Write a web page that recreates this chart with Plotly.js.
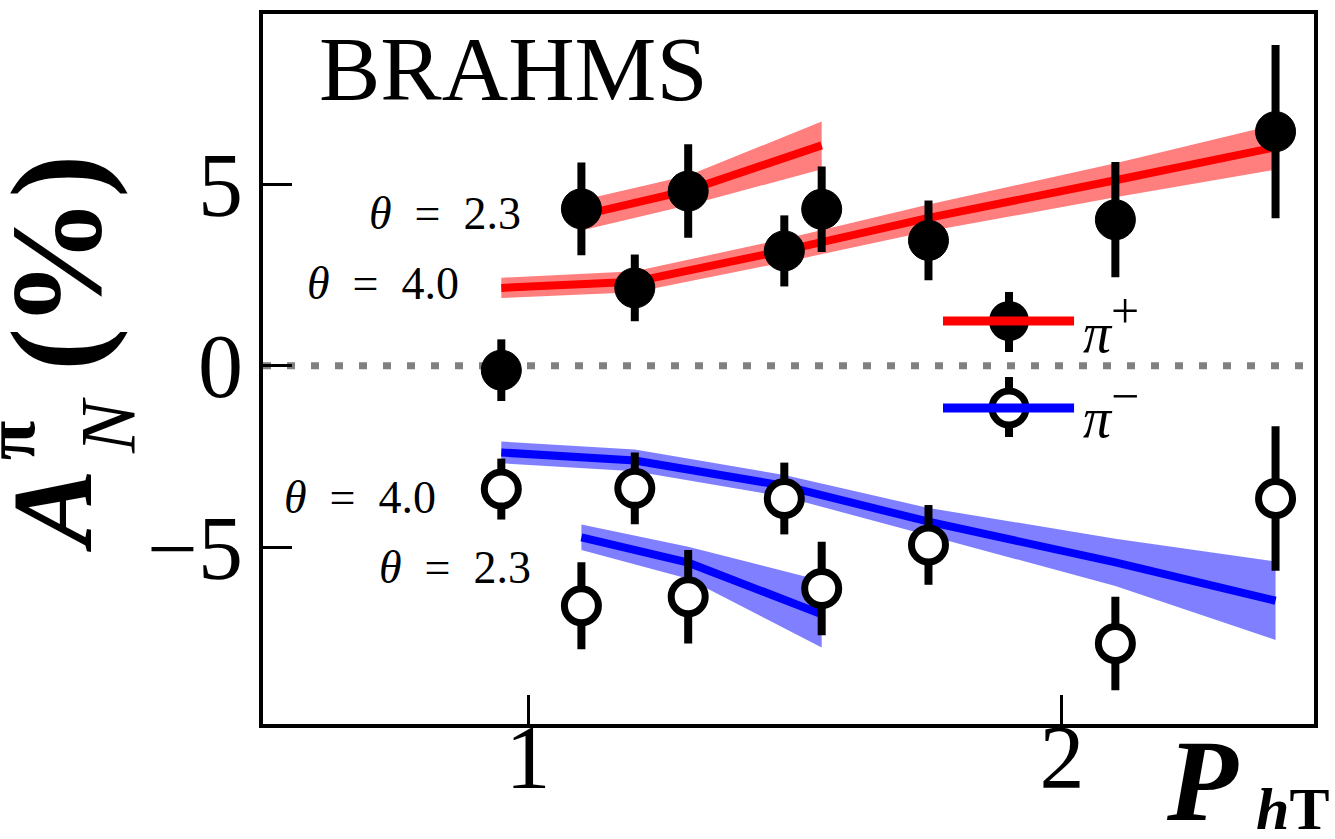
<!DOCTYPE html>
<html>
<head>
<meta charset="utf-8">
<script src="https://cdn.plot.ly/plotly-3.0.1.min.js"></script>
<style>html,body{margin:0;padding:0;background:#fff;}#chart{width:1335px;height:839px;}</style>
</head>
<body>
<div id="chart"></div>
<script>
// ---- data ----
const pT40 = [0.95, 1.20, 1.48, 1.75, 2.10, 2.40];   // theta = 4.0 bins
const pT23 = [1.10, 1.30, 1.55];                     // theta = 2.3 bins

const piPlus40    = [-0.12, 2.15, 3.17, 3.46, 4.03, 6.46];
const piPlus40Err = [0.85, 0.92, 0.98, 1.10, 1.59, 2.39];
const piPlus23    = [4.33, 4.82, 4.32];
const piPlus23Err = [1.28, 1.29, 1.18];

const piMinus40    = [-3.40, -3.38, -3.66, -4.94, -7.66, -3.66];
const piMinus40Err = [0.84, 0.99, 0.99, 1.10, 1.29, 1.99];
const piMinus23    = [-6.62, -6.37, -6.14];
const piMinus23Err = [1.20, 1.29, 1.29];

const thPlus40     = [2.15, 2.32, 3.18, 4.08, 5.12, 6.03];
const thPlus40Band = [0.28, 0.29, 0.32, 0.37, 0.47, 0.62];
const thPlus23     = [4.15, 4.84, 6.08];
const thPlus23Band = [0.42, 0.41, 0.66];
const thMinus40     = [-2.39, -2.61, -3.31, -4.30, -5.42, -6.48];
const thMinus40Band = [0.30, 0.30, 0.30, 0.38, 0.65, 1.08];
const thMinus23     = [-4.73, -5.43, -6.85];
const thMinus23Band = [0.35, 0.44, 0.92];

const yTicks = [-5, 0, 5];
const yTickText = ['\u22125', '0', '5'];
const xTicks = [1, 2];
const xTickText = ['1', '2'];

// ---- helpers ----
const FONT = 'Liberation Serif, Times New Roman, serif';
function band(xs, mid, hw, color) {
  const up = mid.map((v, i) => v + hw[i]);
  const lo = mid.map((v, i) => v - hw[i]);
  return {
    x: xs.concat(xs.slice().reverse()),
    y: up.concat(lo.slice().reverse()),
    type: 'scatter', mode: 'lines', fill: 'toself',
    fillcolor: color, line: {width: 0}, hoverinfo: 'skip', showlegend: false
  };
}
function curve(xs, ys, color) {
  return {x: xs, y: ys, type: 'scatter', mode: 'lines',
    line: {color: color, width: 8}, showlegend: false};
}
function pts(xs, ys, err, open) {
  return {
    x: xs, y: ys, type: 'scatter', mode: 'markers', showlegend: false,
    error_y: {type: 'data', array: err, visible: true, thickness: 8, width: 0, color: '#000'},
    marker: open
      ? {symbol: 'circle', size: 34, color: '#fff', line: {color: '#000', width: 7}}
      : {symbol: 'circle', size: 40, color: '#000', line: {color: '#000', width: 1}}
  };
}

const RB = 'rgba(255,0,0,0.5)', BB = 'rgba(0,0,255,0.5)';
const traces = [
  band(pT40, thPlus40, thPlus40Band, RB),
  curve(pT40, thPlus40, '#ff0000'),
  band(pT23, thPlus23, thPlus23Band, RB),
  curve(pT23, thPlus23, '#ff0000'),
  band(pT40, thMinus40, thMinus40Band, BB),
  curve(pT40, thMinus40, '#0000ff'),
  band(pT23, thMinus23, thMinus23Band, BB),
  curve(pT23, thMinus23, '#0000ff'),
  pts(pT40, piPlus40, piPlus40Err, false),
  pts(pT23, piPlus23, piPlus23Err, false),
  pts(pT40, piMinus40, piMinus40Err, true),
  pts(pT23, piMinus23, piMinus23Err, true)
];

// legend placement (paper coordinates)
const LX = 0.7098, LX0 = 0.647, LX1 = 0.7717;
const LY1 = 0.5676, LY2 = 0.4451;

const shapes = [
  {type: 'line', xref: 'paper', yref: 'y', x0: 0, x1: 1, y0: 0, y1: 0, layer: 'below',
   line: {color: '#808080', width: 7, dash: '8px,16px'}},
  // legend pi+
  {type: 'line', xref: 'paper', yref: 'paper', x0: LX, x1: LX, y0: 0.5239, y1: 0.6085, line: {color: '#000', width: 8}},
  {type: 'circle', xref: 'paper', yref: 'paper', xsizemode: 'pixel', ysizemode: 'pixel',
   xanchor: LX, yanchor: LY1, x0: -20, x1: 20, y0: -20, y1: 20, fillcolor: '#000', line: {width: 0}},
  {type: 'line', xref: 'paper', yref: 'paper', x0: LX0, x1: LX1, y0: LY1, y1: LY1, line: {color: '#ff0000', width: 9}},
  // legend pi-
  {type: 'line', xref: 'paper', yref: 'paper', x0: LX, x1: LX, y0: 0.4042, y1: 0.4887, line: {color: '#000', width: 8}},
  {type: 'circle', xref: 'paper', yref: 'paper', xsizemode: 'pixel', ysizemode: 'pixel',
   xanchor: LX, yanchor: LY2, x0: -17, x1: 17, y0: -17, y1: 17, fillcolor: '#fff', line: {color: '#000', width: 7}},
  {type: 'line', xref: 'paper', yref: 'paper', x0: LX0, x1: LX1, y0: LY2, y1: LY2, line: {color: '#0000ff', width: 9}}
];

function ann(text, x, y, size, opts) {
  return Object.assign({text: text, x: x, y: y, xref: 'paper', yref: 'paper',
    showarrow: false, xanchor: 'left', yanchor: 'middle', borderpad: 0,
    font: {family: FONT, size: size, color: '#000'}}, opts || {});
}
const SP = '\u2002';
const annotations = [
  ann('BRAHMS', 0.0523, 0.9225, 92),
  ann('<i>\u03b8</i>' + SP + '=' + SP + '2.3', 0.1001, 0.7197, 46),
  ann('<i>\u03b8</i>' + SP + '=' + SP + '4.0', 0.0409, 0.6211, 46),
  ann('<i>\u03b8</i>' + SP + '=' + SP + '4.0', 0.0190, 0.3197, 46),
  ann('<i>\u03b8</i>' + SP + '=' + SP + '2.3', 0.1094, 0.2211, 46),
  ann('<i>\u03c0</i><sup><span style="font-size:50px">+</span></sup>', 0.779, 0.5634, 56),
  ann('<i>\u03c0</i><sup><span style="font-size:50px">\u2212</span></sup>', 0.779, 0.4437, 56),
  // y-axis title pieces (rotated)
  ann('<b><i>A</i></b>', -0.2008, 0.3014, 115, {xanchor: 'center', textangle: -90}),
  ann('<b>\u03c0</b>', -0.2400, 0.3994, 72, {xanchor: 'center', textangle: -90}),
  ann('<i>N</i>', -0.1475, 0.4212, 78, {xanchor: 'center', textangle: -90}),
  ann('<b>(%)</b>', -0.197, 0.6507, 130, {xanchor: 'center', textangle: -90}),
  // x-axis title pieces
  ann('<b><i>P</i></b>', 0.8940, -0.0803, 116, {xanchor: 'center'}),
  ann('<b><i>h</i>T</b>', 0.9800, -0.1197, 60, {xanchor: 'center'})
];

const axisCommon = {
  showline: true, mirror: true, linecolor: '#000', linewidth: 4,
  ticks: 'inside', ticklen: 29, tickwidth: 3, tickcolor: '#000',
  showgrid: false, zeroline: false,
  tickfont: {family: FONT, size: 90, color: '#000'}
};

const layout = {
  width: 1335, height: 839,
  margin: {l: 263, r: 21, t: 14, b: 115},
  paper_bgcolor: '#fff', plot_bgcolor: '#fff',
  showlegend: false,
  xaxis: Object.assign({}, axisCommon, {range: [0.5037, 2.472], tickmode: 'array',
    tickvals: xTicks, ticktext: xTickText, ticklabelstandoff: -48}),
  yaxis: Object.assign({}, axisCommon, {range: [-9.88, 9.705], tickmode: 'array',
    tickvals: yTicks, ticktext: yTickText, ticklabelstandoff: -2}),
  shapes: shapes,
  annotations: annotations
};

Plotly.newPlot('chart', traces, layout, {displayModeBar: false, staticPlot: true});
</script>
</body>
</html>
